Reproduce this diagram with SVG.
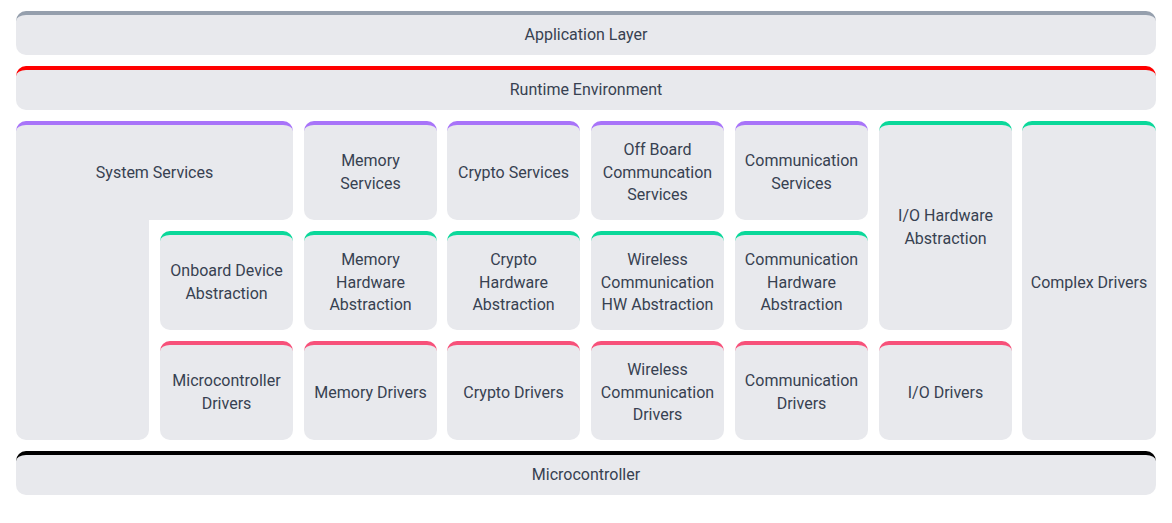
<svg xmlns="http://www.w3.org/2000/svg" xmlns:xlink="http://www.w3.org/1999/xlink" width="1172" height="523" viewBox="0 0 1172 523">
  <style>
    .body { fill: #e8e9ed; }
    .lbl { font-family: Roboto, "Liberation Sans", Arial, sans-serif; font-size: 16px; fill: #374151; text-anchor: middle; }
    .c-gray { fill: #959fad; }
    .c-red { fill: #ff0000; }
    .c-purple { fill: #a874f9; }
    .c-green { fill: #0bd89a; }
    .c-pink { fill: #f7517a; }
    .c-black { fill: #000000; }
  </style>
  <defs>
    <!-- coloured top edge of a 133px wide module -->
    <path id="cap" d="M0,10 A10,10 0 0 1 10,0 H123 A10,10 0 0 1 133,10 Z"/>
    <!-- module body, 133 x 99 -->
    <path id="cell" d="M0,10 A10,6 0 0 1 10,4 H123 A10,6 0 0 1 133,10 V89 A10,10 0 0 1 123,99 H10 A10,10 0 0 1 0,89 Z"/>
  </defs>

  <rect width="1172" height="523" fill="#ffffff"/>

  <!-- full-width layers -->
  <g id="application-layer">
    <path class="c-gray" d="M16,21 A10,10 0 0 1 26,11 H1146 A10,10 0 0 1 1156,21 Z"/>
    <path class="body" d="M16,21 A10,6 0 0 1 26,15 H1146 A10,6 0 0 1 1156,21 V45 A10,10 0 0 1 1146,55 H26 A10,10 0 0 1 16,45 Z"/>
    <text class="lbl" x="586" y="39.5">Application Layer</text>
  </g>
  <g id="runtime-environment">
    <path class="c-red" d="M16,76 A10,10 0 0 1 26,66 H1146 A10,10 0 0 1 1156,76 Z"/>
    <path class="body" d="M16,76 A10,6 0 0 1 26,70 H1146 A10,6 0 0 1 1156,76 V100 A10,10 0 0 1 1146,110 H26 A10,10 0 0 1 16,100 Z"/>
    <text class="lbl" x="586" y="94.5">Runtime Environment</text>
  </g>

  <!-- services row -->
  <g id="system-services">
    <path class="c-purple" d="M16,131 A10,10 0 0 1 26,121 H283 A10,10 0 0 1 293,131 Z"/>
    <path class="body" d="M16,131 A10,6 0 0 1 26,125 H283 A10,6 0 0 1 293,131 V210 A10,10 0 0 1 283,220 H149 V430 A10,10 0 0 1 139,440 H26 A10,10 0 0 1 16,430 Z"/>
    <text class="lbl" x="154.5" y="178">System Services</text>
  </g>
  <g id="memory-services">
    <use href="#cap" x="304" y="121" class="c-purple"/>
    <use href="#cell" x="304" y="121" class="body"/>
    <text class="lbl" x="370.5" y="166.25">Memory</text>
    <text class="lbl" x="370.5" y="188.75">Services</text>
  </g>
  <g id="crypto-services">
    <use href="#cap" x="447" y="121" class="c-purple"/>
    <use href="#cell" x="447" y="121" class="body"/>
    <text class="lbl" x="513.5" y="178">Crypto Services</text>
  </g>
  <g id="offboard-communication-services">
    <use href="#cap" x="591" y="121" class="c-purple"/>
    <use href="#cell" x="591" y="121" class="body"/>
    <text class="lbl" x="657.5" y="155">Off Board</text>
    <text class="lbl" x="657.5" y="177.5">Communcation</text>
    <text class="lbl" x="657.5" y="200">Services</text>
  </g>
  <g id="communication-services">
    <use href="#cap" x="735" y="121" class="c-purple"/>
    <use href="#cell" x="735" y="121" class="body"/>
    <text class="lbl" x="801.5" y="166.25">Communication</text>
    <text class="lbl" x="801.5" y="188.75">Services</text>
  </g>
  <g id="io-hardware-abstraction">
    <use href="#cap" x="879" y="121" class="c-green"/>
    <path class="body" d="M879,131 A10,6 0 0 1 889,125 H1002 A10,6 0 0 1 1012,131 V320 A10,10 0 0 1 1002,330 H889 A10,10 0 0 1 879,320 Z"/>
    <text class="lbl" x="945.5" y="221.25">I/O Hardware</text>
    <text class="lbl" x="945.5" y="243.75">Abstraction</text>
  </g>
  <g id="complex-drivers">
    <path class="c-green" d="M1022,131 A10,10 0 0 1 1032,121 H1146 A10,10 0 0 1 1156,131 Z"/>
    <path class="body" d="M1022,131 A10,6 0 0 1 1032,125 H1146 A10,6 0 0 1 1156,131 V430 A10,10 0 0 1 1146,440 H1032 A10,10 0 0 1 1022,430 Z"/>
    <text class="lbl" x="1089" y="288">Complex Drivers</text>
  </g>

  <!-- hardware abstraction row -->
  <g id="onboard-device-abstraction">
    <use href="#cap" x="160" y="231" class="c-green"/>
    <use href="#cell" x="160" y="231" class="body"/>
    <text class="lbl" x="226.5" y="276.25">Onboard Device</text>
    <text class="lbl" x="226.5" y="298.75">Abstraction</text>
  </g>
  <g id="memory-hardware-abstraction">
    <use href="#cap" x="304" y="231" class="c-green"/>
    <use href="#cell" x="304" y="231" class="body"/>
    <text class="lbl" x="370.5" y="265">Memory</text>
    <text class="lbl" x="370.5" y="287.5">Hardware</text>
    <text class="lbl" x="370.5" y="310">Abstraction</text>
  </g>
  <g id="crypto-hardware-abstraction">
    <use href="#cap" x="447" y="231" class="c-green"/>
    <use href="#cell" x="447" y="231" class="body"/>
    <text class="lbl" x="513.5" y="265">Crypto</text>
    <text class="lbl" x="513.5" y="287.5">Hardware</text>
    <text class="lbl" x="513.5" y="310">Abstraction</text>
  </g>
  <g id="wireless-hw-abstraction">
    <use href="#cap" x="591" y="231" class="c-green"/>
    <use href="#cell" x="591" y="231" class="body"/>
    <text class="lbl" x="657.5" y="265">Wireless</text>
    <text class="lbl" x="657.5" y="287.5">Communication</text>
    <text class="lbl" x="657.5" y="310">HW Abstraction</text>
  </g>
  <g id="communication-hardware-abstraction">
    <use href="#cap" x="735" y="231" class="c-green"/>
    <use href="#cell" x="735" y="231" class="body"/>
    <text class="lbl" x="801.5" y="265">Communication</text>
    <text class="lbl" x="801.5" y="287.5">Hardware</text>
    <text class="lbl" x="801.5" y="310">Abstraction</text>
  </g>

  <!-- driver row -->
  <g id="microcontroller-drivers">
    <use href="#cap" x="160" y="341" class="c-pink"/>
    <use href="#cell" x="160" y="341" class="body"/>
    <text class="lbl" x="226.5" y="386.25">Microcontroller</text>
    <text class="lbl" x="226.5" y="408.75">Drivers</text>
  </g>
  <g id="memory-drivers">
    <use href="#cap" x="304" y="341" class="c-pink"/>
    <use href="#cell" x="304" y="341" class="body"/>
    <text class="lbl" x="370.5" y="398">Memory Drivers</text>
  </g>
  <g id="crypto-drivers">
    <use href="#cap" x="447" y="341" class="c-pink"/>
    <use href="#cell" x="447" y="341" class="body"/>
    <text class="lbl" x="513.5" y="398">Crypto Drivers</text>
  </g>
  <g id="wireless-communication-drivers">
    <use href="#cap" x="591" y="341" class="c-pink"/>
    <use href="#cell" x="591" y="341" class="body"/>
    <text class="lbl" x="657.5" y="375">Wireless</text>
    <text class="lbl" x="657.5" y="397.5">Communication</text>
    <text class="lbl" x="657.5" y="420">Drivers</text>
  </g>
  <g id="communication-drivers">
    <use href="#cap" x="735" y="341" class="c-pink"/>
    <use href="#cell" x="735" y="341" class="body"/>
    <text class="lbl" x="801.5" y="386.25">Communication</text>
    <text class="lbl" x="801.5" y="408.75">Drivers</text>
  </g>
  <g id="io-drivers">
    <use href="#cap" x="879" y="341" class="c-pink"/>
    <use href="#cell" x="879" y="341" class="body"/>
    <text class="lbl" x="945.5" y="398">I/O Drivers</text>
  </g>

  <g id="microcontroller">
    <path class="c-black" d="M16,461 A10,10 0 0 1 26,451 H1146 A10,10 0 0 1 1156,461 Z"/>
    <path class="body" d="M16,461 A10,6 0 0 1 26,455 H1146 A10,6 0 0 1 1156,461 V485 A10,10 0 0 1 1146,495 H26 A10,10 0 0 1 16,485 Z"/>
    <text class="lbl" x="586" y="479.5">Microcontroller</text>
  </g>

  <g id="connectors"/>
</svg>
